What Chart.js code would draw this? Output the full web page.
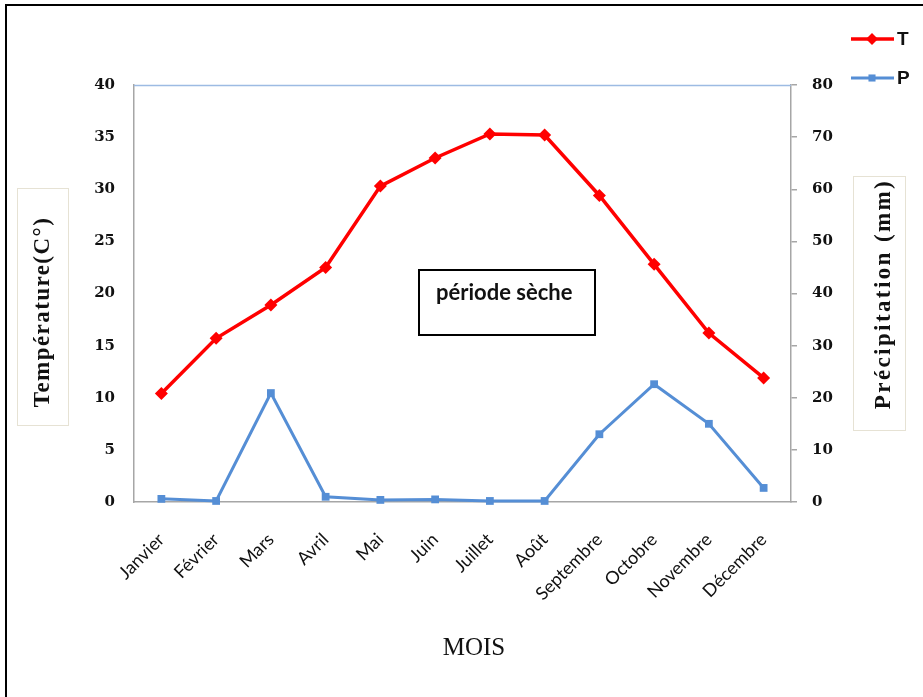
<!DOCTYPE html>
<html>
<head>
<meta charset="utf-8">
<script src="https://cdn.jsdelivr.net/npm/chart.js@4/dist/chart.umd.min.js"></script>
<style>
html,body{margin:0;padding:0;background:#fff;}
canvas{display:block;}
</style>
</head>
<body>
<canvas id="c" width="923" height="697"></canvas>
<script>
const months = ['Janvier','Février','Mars','Avril','Mai','Juin','Juillet','Août','Septembre','Octobre','Novembre','Décembre'];
const temperature = [10.4, 15.7, 18.9, 22.5, 30.3, 33.0, 35.3, 35.2, 29.4, 22.8, 16.2, 11.9];
const precipitation = [0.6, 0.2, 20.9, 1.0, 0.4, 0.5, 0.2, 0.2, 13.0, 22.6, 15.0, 2.7];
const tempTicks = [0, 40, 5];   // min, max, step
const precTicks = [0, 80, 10];  // min, max, step
const seriesNames = ['T', 'P'];
const leftTitle = 'Température(C°)';
const rightTitle = 'Précipitation (mm)';
const xTitle = 'MOIS';
const note = 'période sèche';

const RED = '#ff0000';
const BLUE = '#558ed5';
const AXIS = '#a6a6a6';

function fitSpacing(ctx, text, target) {
  ctx.letterSpacing = '0px';
  const w = ctx.measureText(text).width;
  const s = (target - w) / (text.length - 1);
  ctx.letterSpacing = s.toFixed(2) + 'px';
}

const decor = {
  id: 'decor',
  beforeDraw(chart) {
    const ctx = chart.ctx;
    ctx.save();
    ctx.fillStyle = '#fff';
    ctx.fillRect(0, 0, chart.width, chart.height);
    ctx.restore();
  },
  beforeDatasetsDraw(chart) {
    const ctx = chart.ctx, a = chart.chartArea;
    ctx.save();
    ctx.strokeStyle = '#9dbbe3';
    ctx.lineWidth = 1.5;
    ctx.beginPath();
    ctx.moveTo(a.left, a.top + 0.5);
    ctx.lineTo(a.right, a.top + 0.5);
    ctx.stroke();
    ctx.restore();
  },
  afterDraw(chart) {
    const ctx = chart.ctx;
    ctx.save();
    // outer frame
    ctx.strokeStyle = '#000';
    ctx.lineWidth = 2;
    ctx.beginPath();
    ctx.moveTo(6, 697);
    ctx.lineTo(6, 5);
    ctx.lineTo(923, 5);
    ctx.stroke();

    // title boxes
    ctx.strokeStyle = '#e6e2d4';
    ctx.lineWidth = 1;
    ctx.strokeRect(17.5, 188.5, 51, 237);
    ctx.strokeRect(853.5, 176.5, 52, 254);

    ctx.fillStyle = '#111';
    ctx.textAlign = 'center';
    ctx.textBaseline = 'middle';
    ctx.font = 'bold 23px "Liberation Serif"';
    ctx.save();
    ctx.translate(43, 312);
    ctx.rotate(-Math.PI / 2);
    fitSpacing(ctx, leftTitle, 189);
    ctx.fillText(leftTitle, 0, 0);
    ctx.restore();

    ctx.save();
    ctx.translate(884, 294);
    ctx.rotate(-Math.PI / 2);
    fitSpacing(ctx, rightTitle, 228);
    ctx.fillText(rightTitle, 0, 0);
    ctx.restore();
    ctx.letterSpacing = '0px';

    // x title
    ctx.font = '25px "Liberation Serif"';
    ctx.fillText(xTitle, 474, 648);

    // note box
    ctx.strokeStyle = '#000';
    ctx.lineWidth = 2;
    ctx.strokeRect(419, 270, 176, 65);
    ctx.font = 'bold 22px Lato';
    ctx.textAlign = 'left';
    ctx.fillText(note, 436, 293);

    // legend
    const items = [[seriesNames[0], RED, 'rectRot', 39, 3.5, 6], [seriesNames[1], BLUE, 'rect', 78, 3, 5]];
    for (const [name, col, style, y, lw, r] of items) {
      ctx.strokeStyle = col;
      ctx.lineWidth = lw;
      ctx.beginPath();
      ctx.moveTo(851, y);
      ctx.lineTo(894, y);
      ctx.stroke();
      ctx.fillStyle = col;
      Chart.helpers.drawPoint(ctx, {pointStyle: style, radius: r, borderWidth: 0}, 872, y);
      ctx.fillStyle = '#111';
      ctx.font = 'bold 19px "Liberation Sans"';
      ctx.textAlign = 'left';
      ctx.fillText(name, 897, y + 1);
    }
    ctx.restore();
  }
};

new Chart(document.getElementById('c'), {
  type: 'line',
  data: {
    labels: months,
    datasets: [
      {
        label: seriesNames[0], data: temperature, yAxisID: 'y',
        borderColor: RED, backgroundColor: RED, borderWidth: 3.5,
        pointStyle: 'rectRot', pointRadius: 6.5, pointBorderWidth: 0,
        tension: 0, clip: false
      },
      {
        label: seriesNames[1], data: precipitation, yAxisID: 'y1',
        borderColor: BLUE, backgroundColor: BLUE, borderWidth: 3,
        pointStyle: 'rect', pointRadius: 5.5, pointBorderWidth: 0,
        tension: 0, clip: false
      }
    ]
  },
  options: {
    responsive: false,
    animation: false,
    events: [],
    layout: { padding: { top: 85, left: 0, right: 0, bottom: 0 } },
    plugins: { legend: { display: false }, tooltip: { enabled: false }, title: { display: false } },
    scales: {
      x: {
        type: 'category', offset: true,
        grid: { display: false, drawTicks: false },
        border: { display: true, color: AXIS, width: 1.5 },
        ticks: { autoSkip: false, maxRotation: 45, minRotation: 45, padding: 27, color: '#111', font: { family: 'Lato', size: 18 } },
        afterFit: s => { s.height = 195; }
      },
      y: {
        position: 'left', min: tempTicks[0], max: tempTicks[1],
        grid: { display: false, drawTicks: false },
        border: { display: true, color: AXIS, width: 1.5 },
        ticks: { stepSize: tempTicks[2], padding: 19, color: '#111', font: { family: 'DejaVu Serif', size: 15, weight: 'bold' } },
        afterFit: s => { s.width = 134; }
      },
      y1: {
        position: 'right', min: precTicks[0], max: precTicks[1],
        grid: { display: true, drawOnChartArea: false, drawTicks: true, tickLength: 6, color: AXIS, lineWidth: 1.5 },
        border: { display: true, color: AXIS, width: 1.5 },
        ticks: { stepSize: precTicks[2], padding: 15, color: '#111', font: { family: 'DejaVu Serif', size: 15, weight: 'bold' } },
        afterFit: s => { s.width = 132; }
      }
    }
  },
  plugins: [decor]
});
</script>
</body>
</html>
